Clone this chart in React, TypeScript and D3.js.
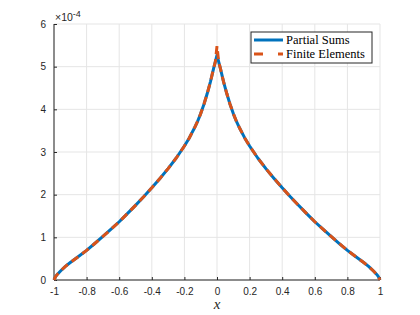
import React, { useEffect, useRef } from 'react';
import * as d3 from 'd3';

// sample points (x on [-1, 1], y in units of 1e-4)
const xValues = [
  -1, -0.99, -0.98, -0.96, -0.93, -0.9, -0.85, -0.8, -0.75, -0.7, -0.65, -0.6, -0.55, -0.5, -0.45,
  -0.4, -0.35, -0.3, -0.25, -0.2, -0.17, -0.14, -0.12, -0.1, -0.08, -0.06, -0.04, -0.02, -0.01, 0,
  0.01, 0.02, 0.04, 0.06, 0.08, 0.1, 0.12, 0.14, 0.17, 0.2, 0.25, 0.3, 0.35, 0.4, 0.45, 0.5, 0.55,
  0.6, 0.65, 0.7, 0.75, 0.8, 0.85, 0.9, 0.93, 0.96, 0.98, 0.99, 1,
];
const partialSums = [
  0, 0.08, 0.13, 0.21, 0.32, 0.41, 0.55, 0.695, 0.855, 1.02, 1.19, 1.365, 1.555, 1.75, 1.95, 2.16,
  2.38, 2.61, 2.86, 3.14, 3.33, 3.55, 3.71, 3.9, 4.12, 4.37, 4.65, 4.97, 5.12, 5.27, 5.12, 4.97, 4.65,
  4.37, 4.12, 3.9, 3.71, 3.55, 3.33, 3.14, 2.86, 2.61, 2.38, 2.16, 1.95, 1.75, 1.555, 1.365, 1.19,
  1.02, 0.855, 0.695, 0.55, 0.41, 0.32, 0.21, 0.13, 0.08, 0,
];
const finiteElements = [
  0, 0.08, 0.13, 0.21, 0.32, 0.41, 0.55, 0.695, 0.855, 1.02, 1.19, 1.365, 1.555, 1.75, 1.95, 2.16,
  2.38, 2.61, 2.86, 3.14, 3.33, 3.55, 3.71, 3.9, 4.12, 4.37, 4.65, 4.97, 5.12, 5.48, 5.12, 4.97, 4.65,
  4.37, 4.12, 3.9, 3.71, 3.55, 3.33, 3.14, 2.86, 2.61, 2.38, 2.16, 1.95, 1.75, 1.555, 1.365, 1.19,
  1.02, 0.855, 0.695, 0.55, 0.41, 0.32, 0.21, 0.13, 0.08, 0,
];
const xTicks = [-1, -0.8, -0.6, -0.4, -0.2, 0, 0.2, 0.4, 0.6, 0.8, 1];
const yTicks = [0, 1, 2, 3, 4, 5, 6];
const legendLabels = ['Partial Sums', 'Finite Elements'];

const W = 420;
const H = 315;
const BLUE = '#0072BD';
const ORANGE = '#D95319';
const AXIS = '#262626';
const SANS = '"Liberation Sans", Arial, sans-serif';
const SERIF = '"Liberation Serif", "Times New Roman", serif';

const App: React.FC = () => {
  const svgRef = useRef<SVGSVGElement>(null);

  useEffect(() => {
    if (!svgRef.current) return;
    const svg = d3.select(svgRef.current);
    svg.selectAll('*').remove();

    const margin = { top: 24, right: 40, bottom: 35, left: 54 };
    const x = d3.scaleLinear().domain([-1, 1]).range([margin.left, W - margin.right]);
    const y = d3.scaleLinear().domain([0, 6]).range([H - margin.bottom, margin.top]);

    // grid
    const grid = svg.append('g');
    grid
      .selectAll('.gx')
      .data(xTicks)
      .enter()
      .append('line')
      .attr('x1', (d) => x(d))
      .attr('x2', (d) => x(d))
      .attr('y1', y(0))
      .attr('y2', y(6))
      .style('stroke', '#e5e5e5')
      .style('stroke-width', 1);
    grid
      .selectAll('.gy')
      .data(yTicks)
      .enter()
      .append('line')
      .attr('x1', x(-1))
      .attr('x2', x(1))
      .attr('y1', (d) => y(d))
      .attr('y2', (d) => y(d))
      .style('stroke', '#e5e5e5')
      .style('stroke-width', 1);

    // axes (ticks pointing inward, MATLAB style)
    const xAxis = d3
      .axisBottom(x)
      .tickValues(xTicks)
      .tickSize(-3)
      .tickPadding(8)
      .tickFormat((d) => String(d));
    const gx = svg.append('g').attr('transform', `translate(0,${y(0)})`).call(xAxis);
    const yAxis = d3
      .axisLeft(y)
      .tickValues(yTicks)
      .tickSize(-3)
      .tickPadding(8)
      .tickFormat((d) => String(d));
    const gy = svg.append('g').attr('transform', `translate(${x(-1)},0)`).call(yAxis);

    [gx, gy].forEach((g) => {
      g.select('.domain').style('stroke', AXIS).style('stroke-width', 1);
      g.selectAll('.tick line').style('stroke', AXIS);
      g.selectAll('.tick text').style('fill', AXIS).style('font-family', SANS).style('font-size', '10px');
    });
    gx.selectAll('.tick text').attr('dy', '0.71em').attr('y', 8);
    gx.select('.domain').attr('d', `M${x(-1)},0H${x(1)}`);
    gy.select('.domain').attr('d', `M0,${y(0)}V${y(6)}`);

    // exponent label
    const expo = svg
      .append('text')
      .attr('x', x(-1) + 1)
      .attr('y', 21)
      .style('font-family', SANS)
      .style('font-size', '10.5px')
      .style('fill', AXIS);
    expo.append('tspan').text('×10');
    expo.append('tspan').attr('dy', -4).style('font-size', '9px').text('-4');

    // x label
    svg
      .append('text')
      .attr('x', x(0))
      .attr('y', 309)
      .attr('text-anchor', 'middle')
      .style('font-family', SERIF)
      .style('font-style', 'italic')
      .style('font-size', '15px')
      .style('fill', AXIS)
      .text('x');

    const pts = (vals: number[]) => xValues.map((v, i) => [v, vals[i]] as [number, number]);
    const line = d3
      .line<[number, number]>()
      .x((d) => x(d[0]))
      .y((d) => y(d[1]));

    svg
      .append('path')
      .attr('d', line(pts(partialSums)))
      .style('fill', 'none')
      .style('stroke', BLUE)
      .style('stroke-width', 3)
      .style('stroke-linejoin', 'round');
    svg
      .append('path')
      .attr('d', line(pts(finiteElements)))
      .style('fill', 'none')
      .style('stroke', ORANGE)
      .style('stroke-width', 3)
      .style('stroke-dasharray', '8,5');

    // legend
    const lg = svg.append('g').attr('transform', 'translate(251,32)');
    lg.append('rect')
      .attr('width', 121)
      .attr('height', 31)
      .style('fill', 'white')
      .style('stroke', AXIS)
      .style('stroke-width', 1);
    legendLabels.forEach((label, i) => {
      const yy = 8 + i * 14;
      lg.append('line')
        .attr('x1', 3)
        .attr('x2', 32)
        .attr('y1', yy)
        .attr('y2', yy)
        .style('stroke', i === 0 ? BLUE : ORANGE)
        .style('stroke-width', 3)
        .style('stroke-dasharray', i === 0 ? null : '9,15');
      lg.append('text')
        .attr('x', 35)
        .attr('y', yy + 4)
        .style('font-family', SERIF)
        .style('font-size', '12.5px')
        .style('fill', '#000')
        .text(label);
    });
  }, []);

  return (
    <div style={{ position: 'absolute', left: 0, top: 0 }}>
      <svg ref={svgRef} width={W} height={H} style={{ display: 'block', background: 'white' }} />
    </div>
  );
};

export default App;
